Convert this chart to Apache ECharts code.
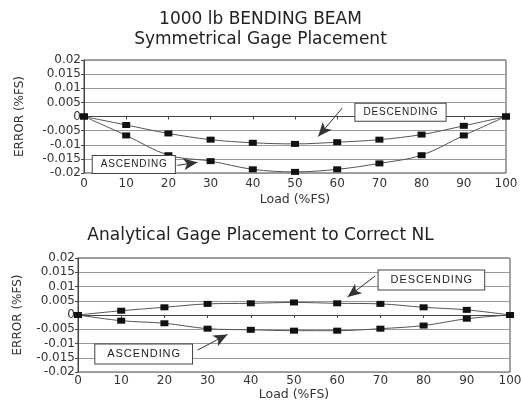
<!DOCTYPE html>
<html>
<head>
<meta charset="utf-8">
<script src="https://cdn.jsdelivr.net/npm/echarts@6/dist/echarts.min.js"></script>
<style>
html,body{margin:0;padding:0;background:#fff;}
#chart{width:521px;height:404px;}
</style>
</head>
<body>
<div id="chart"></div>
<script>
// Load points along the x axis (% of full scale)
const loads = [0, 10, 20, 30, 40, 50, 60, 70, 80, 90, 100];

// Symmetrical gage placement: error (%FS)
const symDescending = [0, -0.003, -0.006, -0.0082, -0.0093, -0.0097, -0.0091, -0.0082, -0.0064, -0.0033, 0];
const symAscending  = [0, -0.0067, -0.0137, -0.0158, -0.0187, -0.0196, -0.0187, -0.0166, -0.0137, -0.0067, 0];

// Analytical gage placement: error (%FS)
const anaDescending = [0, 0.0015, 0.0027, 0.0039, 0.0041, 0.0044, 0.0041, 0.0039, 0.0027, 0.0018, 0];
const anaAscending  = [0, -0.002, -0.0029, -0.0048, -0.0052, -0.0055, -0.0055, -0.0048, -0.0037, -0.0013, 0];

const yTicks = [-0.02, -0.015, -0.01, -0.005, 0, 0.005, 0.01, 0.015, 0.02];
const xTicks = [0, 10, 20, 30, 40, 50, 60, 70, 80, 90, 100];

const titles = ['1000 lb BENDING BEAM\nSymmetrical Gage Placement', 'Analytical Gage Placement to Correct NL'];

// Callouts in data coordinates: box centre and arrow from/to
const callouts = [
  [
    { text: 'DESCENDING', box: [75, 0.0015], from: [61.2, 0.003], to: [55.5, -0.0071] },
    { text: 'ASCENDING', box: [11.8, -0.017], from: [22.1, -0.0173], to: [26.9, -0.0162] }
  ],
  [
    { text: 'DESCENDING', box: [81.8, 0.0123], from: [68.8, 0.0137], to: [62.4, 0.0063] },
    { text: 'ASCENDING', box: [15.2, -0.0137], from: [27.7, -0.0123], to: [34.6, -0.0068] }
  ]
];

const FONT = 'Liberation Sans, Arial, sans-serif';
const WIDE = 'DejaVu Sans, Verdana, sans-serif';
const chart = echarts.init(document.getElementById('chart'), null, { renderer: 'canvas' });

const grids = [
  { left: 84, right: 15, top: 60, height: 113 },
  { left: 78, right: 11, top: 258, height: 114 }
];
// per-panel axis spacing: [x label margin, x name gap, y name gap]
const axisGaps = [[5, 20, 58], [3, 16, 54]];

function fmtY(v) {
  if (Math.abs(v) < 1e-9) return '0';
  return String(parseFloat(v.toFixed(3)));
}

function xAxisFor(i) {
  return {
    gridIndex: i, type: 'value', min: 0, max: 100, interval: 10,
    name: 'Load (%FS)', nameLocation: 'middle', nameGap: axisGaps[i][1],
    nameTextStyle: { fontFamily: WIDE, fontSize: 12.5, color: '#333' },
    axisLine: { show: true, lineStyle: { color: '#444', width: 1 } },
    axisTick: { show: true, inside: false, length: 3, lineStyle: { color: '#444' } },
    axisLabel: { fontFamily: WIDE, fontSize: 12, color: '#333', margin: axisGaps[i][0] },
    splitLine: { show: false }
  };
}

function yAxisFor(i) {
  return {
    gridIndex: i, type: 'value', min: -0.02, max: 0.02, interval: 0.005,
    name: 'ERROR (%FS)', nameLocation: 'middle', nameGap: axisGaps[i][2], nameRotate: 90,
    nameTextStyle: { fontFamily: WIDE, fontSize: 12, color: '#333' },
    axisLine: { show: true, lineStyle: { color: '#444', width: 1 } },
    axisTick: { show: true, length: 3, lineStyle: { color: '#444' } },
    axisLabel: { fontFamily: WIDE, fontSize: 12, color: '#333', margin: 3, formatter: fmtY },
    splitLine: { show: true, lineStyle: { color: '#999', width: 1 } }
  };
}

function seriesFor(i, values, notes) {
  const s = {
    type: 'line', xAxisIndex: i, yAxisIndex: i,
    data: loads.map((x, k) => [x, values[k]]),
    smooth: 0.35,
    symbol: 'rect', symbolSize: [8, 6],
    itemStyle: { color: '#111' },
    lineStyle: { color: '#555', width: 1 },
    z: 3
  };
  if (notes) {
    const big = i === 1;
    s.markLine = {
      silent: true, animation: false,
      symbol: ['none', 'arrow'], symbolSize: [9, 14],
      lineStyle: { color: '#333', width: 1, type: 'solid' },
      label: { show: false },
      data: notes.map(n => [{ coord: n.from }, { coord: n.to }])
    };
    s.markPoint = {
      silent: true, animation: false,
      symbol: 'rect', symbolSize: 1, itemStyle: { color: 'rgba(0,0,0,0)' },
      label: {
        show: true, position: 'inside', fontFamily: FONT, fontSize: big ? 11 : 10, color: '#222',
        backgroundColor: '#fff', borderColor: '#444', borderWidth: 1,
        padding: big ? [4, 12, 4, 12] : [4, 8, 3, 8], formatter: p => p.name
      },
      data: notes.map(n => ({ name: n.text.split('').join('\u200A'), coord: n.box }))
    };
  }
  return s;
}

chart.setOption({
  animation: false,
  backgroundColor: '#fff',
  title: [
    { text: titles[0], left: 'center', top: 5,
      textStyle: { fontFamily: WIDE, fontSize: 17, fontWeight: 'normal', color: '#222', lineHeight: 20 } },
    { text: titles[1], left: 'center', top: 221,
      textStyle: { fontFamily: WIDE, fontSize: 17, fontWeight: 'normal', color: '#222', lineHeight: 20 } }
  ],
  grid: grids.map(g => Object.assign({
    show: true, borderColor: '#444', borderWidth: 1, backgroundColor: '#fff',
    containLabel: false, outerBoundsMode: 'none'
  }, g)),
  xAxis: [xAxisFor(0), xAxisFor(1)],
  yAxis: [yAxisFor(0), yAxisFor(1)],
  series: [
    seriesFor(0, symDescending, callouts[0]),
    seriesFor(0, symAscending),
    seriesFor(1, anaDescending, callouts[1]),
    seriesFor(1, anaAscending)
  ]
});
</script>
</body>
</html>
